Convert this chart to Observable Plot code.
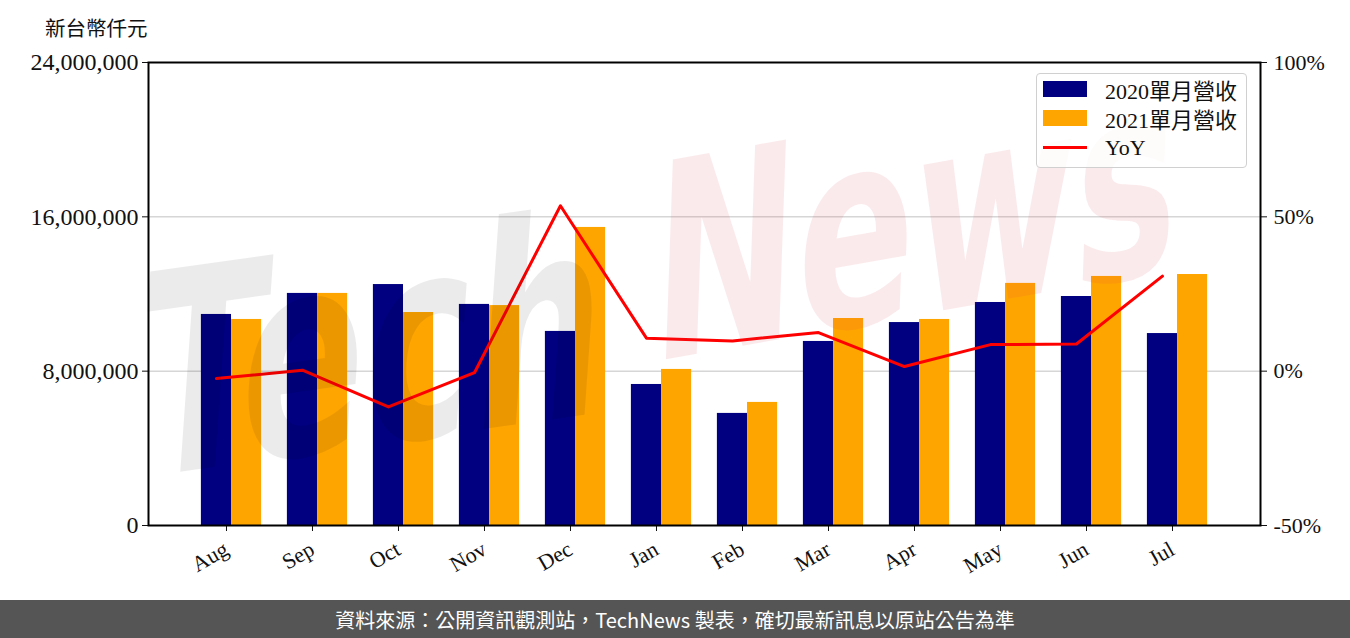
<!DOCTYPE html>
<html><head><meta charset="utf-8">
<script src="https://cdn.jsdelivr.net/npm/d3@7"></script>
<script src="https://cdn.jsdelivr.net/npm/@observablehq/plot@0.6"></script>
<style>
body{margin:0;background:#fff;}
#wrap{position:relative;width:1350px;height:638px;overflow:hidden;background:#fff;}
#chart{position:absolute;left:0;top:0;}
#unit{position:absolute;left:45px;top:12px;font:20.5px "Noto Sans CJK TC",serif;color:#111;}
#wm{position:absolute;left:0;top:0;width:1350px;height:600px;pointer-events:none;}
#legend{position:absolute;left:1036px;top:73px;width:211px;height:95px;border:1.5px solid #d0d0d0;border-radius:4px;background:rgba(255,255,255,0.8);box-sizing:border-box;font:22px "Liberation Serif","Noto Sans CJK TC",serif;color:#111;}
#legend .row{position:absolute;left:6px;height:24px;display:flex;align-items:center;white-space:nowrap;}
#legend .sw{width:44px;height:16px;margin-right:18px;}
#legend .ln{width:44px;height:3px;margin-right:18px;background:#ff0000;}
#footer{position:absolute;left:0;top:600px;width:1350px;height:38px;background:#555555;color:#fff;font:20px "Noto Sans CJK TC",sans-serif;display:flex;align-items:center;justify-content:center;}
</style></head><body>
<div id="wrap">
  <div id="chart"></div>
  <svg id="wm" width="1350" height="600">
    <g font-family="DejaVu Sans" font-weight="bold" font-size="185">
      <text transform="translate(135,478) rotate(-8) skewX(-12) scale(1,1.5)" fill="rgba(0,0,0,0.08)">Tech</text>
      <text transform="translate(650,362) rotate(-10) skewX(-12) scale(0.95,1.45)" fill="rgba(215,60,80,0.11)">News</text>
    </g>
  </svg>
  <div id="unit">新台幣仟元</div>
  <div id="legend">
    <div class="row" style="top:2.5px"><div class="sw" style="background:#000080"></div><span>2020單月營收</span></div>
    <div class="row" style="top:32px"><div class="sw" style="background:#ffa500"></div><span>2021單月營收</span></div>
    <div class="row" style="top:61.5px"><div class="ln"></div><span>YoY</span></div>
  </div>
  <div id="footer">資料來源：公開資訊觀測站，TechNews 製表，確切最新訊息以原站公告為準</div>
</div>
<script>
const months = ["Aug","Sep","Oct","Nov","Dec","Jan","Feb","Mar","Apr","May","Jun","Jul"];
const rev2020 = [10940000,12030000,12490000,11460000,10060000,7310000,5810000,9540000,10520000,11560000,11870000,9950000];
const rev2021 = [10680000,12030000,11040000,11400000,15450000,8090000,6380000,10730000,10680000,12550000,12910000,13010000];
const yoy = [-2.4,0.3,-11.6,-0.5,53.6,10.7,9.8,12.5,1.5,8.6,8.8,30.8];
const leftTicks = [0,8000000,16000000,24000000];
const rightTicks = [-50,0,50,100];

const bw = 0.35;
const data = months.map((m,i)=>({i, m, a: rev2020[i], b: rev2021[i], yoy: yoy[i]}));
// map percent to left scale: -50% -> 0, 100% -> 24M
const pct2y = p => (p + 50) / 150 * 24000000;

const font = "Liberation Serif, DejaVu Serif, serif";
const plot = Plot.plot({
  width: 1350, height: 600,
  marginLeft: 148, marginRight: 90, marginTop: 62, marginBottom: 75,
  style: {fontFamily: font, fontSize: "22px", color: "#111", background: "transparent"},
  x: {type: "linear", domain: [-0.965, 11.965], axis: null},
  y: {domain: [0, 24000000], axis: null},
  marks: [
    Plot.ruleY([8000000,16000000], {stroke: "#d6d6d6", strokeWidth: 1.5}),
    Plot.rectY(data, {x1: d => d.i - bw, x2: d => d.i, y1: 0, y2: "a", fill: "#000080"}),
    Plot.rectY(data, {x1: d => d.i, x2: d => d.i + bw, y1: 0, y2: "b", fill: "#ffa500"}),
    Plot.line(data, {x: d => d.i - bw/2, y: d => pct2y(d.yoy), stroke: "#ff0000", strokeWidth: 3}),
    Plot.axisY({ticks: leftTicks, tickFormat: d => d3.format(",")(d), tickSize: 6, tickPadding: 4, fontSize: 24, stroke: "#111"}),
    Plot.axisY({anchor: "right", ticks: rightTicks.map(pct2y), tickFormat: (d,k) => rightTicks[k] + "%", tickSize: 6, tickPadding: 7, fontSize: 22, stroke: "#111"}),
    Plot.axisX({ticks: d3.range(months.length), tickFormat: i => months[i], tickRotate: -30, tickSize: 6, tickPadding: 16, dx: -5, fontSize: 22, stroke: "#111"}),
    Plot.frame({stroke: "#000", strokeWidth: 2})
  ]
});
document.getElementById("chart").appendChild(plot);
</script>
</body></html>
